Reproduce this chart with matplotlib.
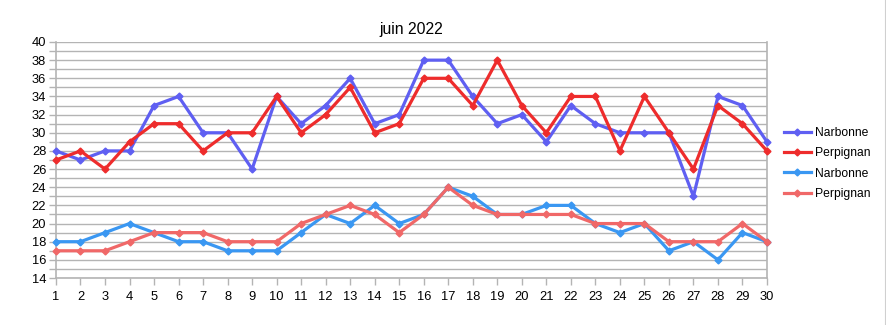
import numpy as np
import matplotlib.pyplot as plt
from matplotlib.lines import Line2D
from matplotlib.ticker import MultipleLocator

plt.rcParams['font.family'] = ['Liberation Sans', 'DejaVu Sans']

days = list(range(1, 31))

# maximales
narbonne_max = [28, 27, 28, 28, 33, 34, 30, 30, 26, 34, 31, 33, 36, 31, 32,
                38, 38, 34, 31, 32, 29, 33, 31, 30, 30, 30, 23, 34, 33, 29]
perpignan_max = [27, 28, 26, 29, 31, 31, 28, 30, 30, 34, 30, 32, 35, 30, 31,
                 36, 36, 33, 38, 33, 30, 34, 34, 28, 34, 30, 26, 33, 31, 28]

# minimales
narbonne_min = [18, 18, 19, 20, 19, 18, 18, 17, 17, 17, 19, 21, 20, 22, 20,
                21, 24, 23, 21, 21, 22, 22, 20, 19, 20, 17, 18, 16, 19, 18]
perpignan_min = [17, 17, 17, 18, 19, 19, 19, 18, 18, 18, 20, 21, 22, 21, 19,
                 21, 24, 22, 21, 21, 21, 21, 20, 20, 20, 18, 18, 18, 20, 18]

series = [
    (narbonne_max, 'Narbonne', '#5f5ff2'),
    (perpignan_max, 'Perpignan', '#ee2c2c'),
    (narbonne_min, 'Narbonne', '#3a97f2'),
    (perpignan_min, 'Perpignan', '#f06868'),
]

fig = plt.figure(figsize=(8.87, 3.25), dpi=100)
ax = fig.add_axes([0.0631, 0.1446, 0.8016, 0.7262])

grid_col = '#b4b4b4'
for vals, name, col in series:
    ax.plot(days, vals, color=col, lw=2.3, marker='D', ms=3.5,
            label=name, clip_on=False, zorder=3)

ax.set_xlim(1, 30)
ax.set_ylim(14, 40)
ax.xaxis.set_major_locator(MultipleLocator(1))
ax.yaxis.set_major_locator(MultipleLocator(2))
ax.yaxis.set_minor_locator(MultipleLocator(1))
ax.grid(axis='y', which='both', color=grid_col, lw=1)
ax.set_axisbelow(True)

for side in ['left', 'bottom', 'right']:
    ax.spines[side].set_color(grid_col)
    ax.spines[side].set_linewidth(1.2)
ax.spines['top'].set_visible(False)

ax.tick_params(axis='both', which='both', direction='out', color=grid_col,
               length=5, width=1, labelsize=9.3, colors='black')
ax.tick_params(axis='both', which='both', color=grid_col)
ax.tick_params(axis='y', pad=2)
ax.tick_params(axis='x', pad=4)

ax.set_title('juin 2022', fontsize=11.3, pad=6)

ax.legend(loc='center left', bbox_to_anchor=(0.884, 0.497), bbox_transform=fig.transFigure,
          frameon=False, fontsize=8.7, handlelength=2.2, handletextpad=0.35,
          labelspacing=0.7, borderaxespad=0, borderpad=0)

# bordure droite de la page
fig.add_artist(Line2D([0.998, 0.998], [0.0, 1.0], color='#d0d0d0', lw=0.8,
                      transform=fig.transFigure))

fig.savefig('out.png', dpi=100)
